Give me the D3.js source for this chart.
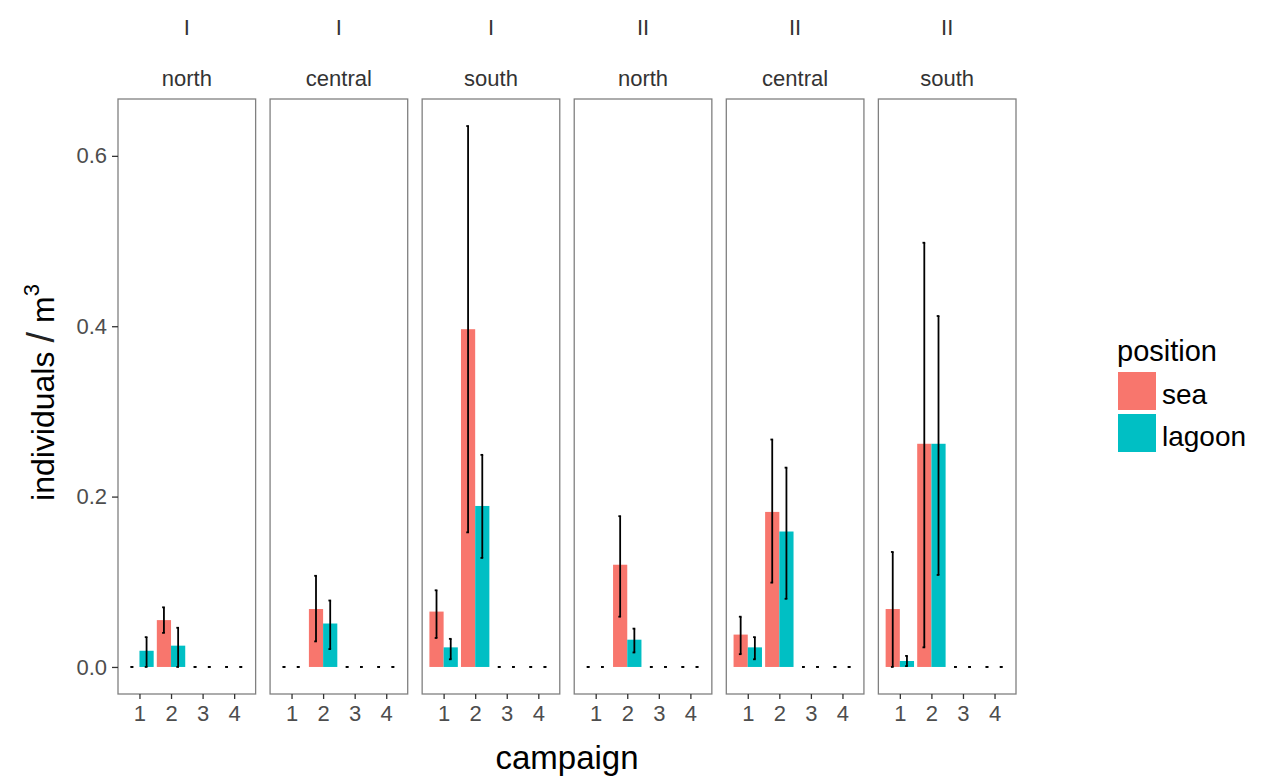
<!DOCTYPE html>
<html>
<head>
<meta charset="utf-8">
<script src="https://cdn.jsdelivr.net/npm/d3@7"></script>
<style>
  html, body { margin: 0; padding: 0; background: #fff; }
  svg { display: block; font-family: "Liberation Sans", Arial, sans-serif; }
</style>
</head>
<body>
<svg id="chart" width="1263" height="782"></svg>
<script>
// ---- data ----
const campaigns = [1, 2, 3, 4];
const panelPeriod = ["I", "I", "I", "II", "II", "II"];
const panelRegion = ["north", "central", "south", "north", "central", "south"];
const positions = ["sea", "lagoon"];
const yTicks = [0.0, 0.2, 0.4, 0.6];

// mean / lower / upper per panel, per campaign
const seaMean = [
  [0, 0.055, 0, 0],
  [0, 0.068, 0, 0],
  [0.065, 0.3965, 0, 0],
  [0, 0.120, 0, 0],
  [0.038, 0.182, 0, 0],
  [0.068, 0.262, 0, 0]
];
const seaLow = [
  [0, 0.040, 0, 0],
  [0, 0.030, 0, 0],
  [0.034, 0.158, 0, 0],
  [0, 0.059, 0, 0],
  [0.015, 0.099, 0, 0],
  [0.0, 0.023, 0, 0]
];
const seaHigh = [
  [0, 0.070, 0, 0],
  [0, 0.107, 0, 0],
  [0.090, 0.635, 0, 0],
  [0, 0.177, 0, 0],
  [0.059, 0.267, 0, 0],
  [0.135, 0.498, 0, 0]
];
const lagoonMean = [
  [0.019, 0.025, 0, 0],
  [0, 0.051, 0, 0],
  [0.023, 0.189, 0, 0],
  [0, 0.032, 0, 0],
  [0.023, 0.159, 0, 0],
  [0.007, 0.262, 0, 0]
];
const lagoonLow = [
  [0.0, 0.0, 0, 0],
  [0, 0.021, 0, 0],
  [0.009, 0.128, 0, 0],
  [0, 0.017, 0, 0],
  [0.009, 0.080, 0, 0],
  [0.001, 0.108, 0, 0]
];
const lagoonHigh = [
  [0.035, 0.046, 0, 0],
  [0, 0.078, 0, 0],
  [0.033, 0.249, 0, 0],
  [0, 0.045, 0, 0],
  [0.035, 0.234, 0, 0],
  [0.013, 0.412, 0, 0]
];

const colors = { sea: "#F8766D", lagoon: "#00BFC4" };

// ---- build records ----
const series = {
  sea: { mean: seaMean, low: seaLow, high: seaHigh },
  lagoon: { mean: lagoonMean, low: lagoonLow, high: lagoonHigh }
};
const records = [];
panelRegion.forEach((r, p) => {
  campaigns.forEach((c, ci) => {
    positions.forEach(pos => {
      records.push({
        panel: p, campaign: c, position: pos,
        mean: series[pos].mean[p][ci],
        low: series[pos].low[p][ci],
        high: series[pos].high[p][ci]
      });
    });
  });
});

// ---- layout ----
const svg = d3.select("#chart");
const plotLeft = 118, plotRight = 1016, plotTop = 99, plotBottom = 694;

const panelScale = d3.scaleBand()
  .domain(d3.range(panelRegion.length))
  .range([plotLeft, plotRight])
  .paddingInner(0.095)
  .paddingOuter(0);

const maxY = d3.max(records, d => d.high);
const expand = maxY * 0.05;
const y = d3.scaleLinear().domain([-expand, maxY + expand]).range([plotBottom, plotTop]);

const dodge = d3.scaleBand().domain(positions).range([-0.45, 0.45]);

// ---- panels ----
panelRegion.forEach((region, p) => {
  const x0 = panelScale(p);
  const bw = panelScale.bandwidth();
  const x = d3.scaleLinear().domain([0.32, 4.68]).range([x0, x0 + bw]);
  const g = svg.append("g");

  // strip labels
  g.append("text")
    .attr("x", x0 + bw / 2).attr("y", 35)
    .attr("text-anchor", "middle")
    .attr("font-size", 22).attr("fill", "#333")
    .text(panelPeriod[p]);
  g.append("text")
    .attr("x", x0 + bw / 2).attr("y", 86)
    .attr("text-anchor", "middle")
    .attr("font-size", 22).attr("fill", "#333")
    .text(region);

  const recs = records.filter(d => d.panel === p);
  const unit = x(1) - x(0);

  // bars
  g.selectAll("rect.bar").data(recs.filter(d => d.mean > 0)).enter()
    .append("rect")
    .attr("class", "bar")
    .attr("x", d => x(d.campaign + dodge(d.position)))
    .attr("width", dodge.bandwidth() * unit)
    .attr("y", d => y(d.mean))
    .attr("height", d => y(0) - y(d.mean))
    .attr("fill", d => colors[d.position]);

  // error bars
  const cx = d => x(d.campaign + dodge(d.position) + dodge.bandwidth() / 2);
  g.selectAll("line.err").data(recs).enter()
    .append("line")
    .attr("x1", cx).attr("x2", cx)
    .attr("y1", d => y(d.low)).attr("y2", d => y(d.high))
    .attr("stroke", "#000").attr("stroke-width", 1.8);
  g.selectAll("line.capTop").data(recs).enter()
    .append("line")
    .attr("x1", d => cx(d) - 1.8).attr("x2", d => cx(d) + 0.9)
    .attr("y1", d => y(d.high)).attr("y2", d => y(d.high))
    .attr("stroke", "#000").attr("stroke-width", 1.8);
  g.selectAll("line.capBot").data(recs).enter()
    .append("line")
    .attr("x1", d => cx(d) - 1.8).attr("x2", d => cx(d) + 0.9)
    .attr("y1", d => y(d.low)).attr("y2", d => y(d.low))
    .attr("stroke", "#000").attr("stroke-width", 1.8);

  // border
  g.append("rect")
    .attr("x", x0).attr("y", plotTop)
    .attr("width", bw).attr("height", plotBottom - plotTop)
    .attr("fill", "none").attr("stroke", "#808080").attr("stroke-width", 1.3);

  // x axis
  const xa = svg.append("g")
    .attr("transform", `translate(0,${plotBottom})`)
    .call(d3.axisBottom(x).tickValues(campaigns).tickSize(5).tickPadding(6).tickFormat(d3.format("d")));
  xa.select(".domain").remove();
  xa.selectAll(".tick line").attr("stroke", "#333").attr("stroke-width", 1.3);
  xa.selectAll(".tick text").attr("font-size", 22).attr("fill", "#4D4D4D")
    .attr("font-family", "Liberation Sans, Arial, sans-serif");
});

// y axis
const ya = svg.append("g")
  .attr("transform", `translate(${plotLeft},0)`)
  .call(d3.axisLeft(y).tickValues(yTicks).tickSize(6).tickPadding(5).tickFormat(d3.format(".1f")));
ya.select(".domain").remove();
ya.selectAll(".tick line").attr("stroke", "#333").attr("stroke-width", 1.3);
ya.selectAll(".tick text").attr("font-size", 22).attr("fill", "#4D4D4D")
  .attr("font-family", "Liberation Sans, Arial, sans-serif");

// axis titles
svg.append("text")
  .attr("x", (plotLeft + plotRight) / 2).attr("y", 769)
  .attr("text-anchor", "middle").attr("font-size", 33).attr("fill", "#000")
  .text("campaign");

const yt = svg.append("text")
  .attr("transform", `translate(54,${(plotTop + plotBottom) / 2 - 4}) rotate(-90)`)
  .attr("text-anchor", "middle").attr("font-size", 32).attr("fill", "#000");
yt.append("tspan").text("individuals");
yt.append("tspan").attr("dx", 9).attr("font-size", 38).attr("font-weight", 100).attr("fill", "#222").text("/");
yt.append("tspan").attr("dx", 9).text("m");
yt.append("tspan").attr("font-size", 22).attr("dy", -15).text("3");

// legend
const lg = svg.append("g");
lg.append("text").attr("x", 1117).attr("y", 361).attr("font-size", 29).attr("fill", "#000").text("position");
positions.forEach((pos, i) => {
  lg.append("rect")
    .attr("x", 1118).attr("y", 372 + i * 42)
    .attr("width", 38).attr("height", 38)
    .attr("fill", colors[pos]);
  lg.append("text")
    .attr("x", 1162).attr("y", 404 + i * 42)
    .attr("font-size", 28).attr("fill", "#000")
    .text(pos);
});
</script>
</body>
</html>
